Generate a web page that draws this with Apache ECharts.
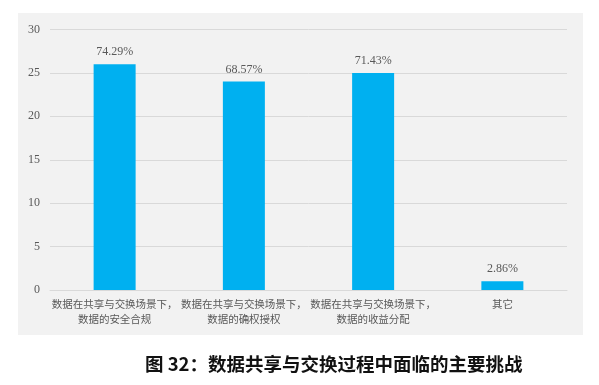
<!DOCTYPE html>
<html><head><meta charset="utf-8">
<script src="https://cdn.jsdelivr.net/npm/echarts@6/dist/echarts.min.js"></script>
<style>html,body{margin:0;padding:0;background:#fff}#c{width:599px;height:385px}</style>
</head><body><div id="c"></div>
<script>
const categories = ["数据在共享与交换场景下，\n数据的安全合规","数据在共享与交换场景下，\n数据的确权授权","数据在共享与交换场景下，\n数据的收益分配","其它"];
const counts = [26, 24, 25, 1];
const percentLabels = ["74.29%","68.57%","71.43%","2.86%"];
const yTicks = [0,5,10,15,20,25,30];
const titleText = "图 32：数据共享与交换过程中面临的主要挑战";

const chart = echarts.init(document.getElementById('c'), null, {renderer:'canvas'});
const serif = "'Liberation Serif','DejaVu Serif','Noto Sans CJK SC',serif";
chart.setOption({
  backgroundColor:'#ffffff',
  animation:false,
  graphic:[
    {type:'rect', z:-10, shape:{x:18,y:13,width:565,height:322}, style:{fill:'#F2F2F2'}},
    {type:'text', left:145, top:355, style:{text:titleText, font:"bold 18.5px 'Noto Sans CJK SC'", fill:'#111'}}
  ],
  grid:{left:50, right:32, top:29.5, bottom:95},
  xAxis:{type:'category', data:categories,
    axisLine:{lineStyle:{color:'#D9D9D9'}}, axisTick:{show:false},
    axisLabel:{color:'#595959', fontSize:10.5, lineHeight:15, fontFamily:"'Noto Sans CJK SC'", interval:0, margin:7}},
  yAxis:{type:'value', min:0, max:30, interval:5,
    axisLine:{show:false}, axisTick:{show:false},
    splitLine:{lineStyle:{color:'#D9D9D9'}},
    axisLabel:{color:'#595959', fontSize:12, fontFamily:serif, margin:10,
      formatter:v=>yTicks.includes(v)?String(v):''}},
  series:[{type:'bar', data:counts, barWidth:'32.5%', itemStyle:{color:'#00B0F0'},
    label:{show:true, position:'top', distance:6, color:'#595959', fontSize:12, fontFamily:serif,
      formatter:p=>percentLabels[p.dataIndex]}}]
});
</script></body></html>
